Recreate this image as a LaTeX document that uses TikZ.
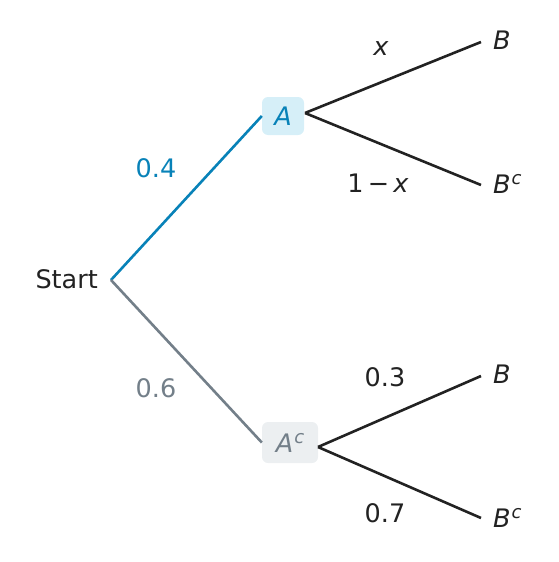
\documentclass[tikz,border=0pt]{standalone}
\usepackage{fontspec}
\setmainfont{DejaVu Sans}
\definecolor{ink}{HTML}{222222}
\definecolor{ablue}{HTML}{0882B8}
\definecolor{agray}{HTML}{737F89}
\definecolor{bluefill}{HTML}{D6EFF8}
\definecolor{grayfill}{HTML}{ECEFF1}
\newcommand\mysupc{\kern1pt\raisebox{9pt}{\fontsize{18}{18}\selectfont\itshape c}}
\begin{document}
\begin{tikzpicture}[x=1pt,y=-1pt,
  every node/.style={font=\fontsize{25.5}{30}\selectfont, text=ink},
  box/.style={rounded corners=6pt, inner sep=0pt},
  edge/.style={line width=2.6pt, line cap=butt},
  lab/.style={inner sep=0pt}]
\useasboundingbox (0,0) rectangle (558,562);
% root
\node[anchor=east, lab] (start) at (98,279) {Start};
\coordinate (s) at (111,280);
% first level
\node[box, fill=bluefill, text=ablue, minimum width=42pt, minimum height=38pt] (A) at (283,116) {\itshape A};
\node[box, fill=grayfill, text=agray, minimum width=56pt, minimum height=41pt] (Ac) at (290,442.5) {\itshape A\mysupc};
\coordinate (a1) at (305,113);
\coordinate (a2) at (318,447);
% leaves
\coordinate (b1) at (481,42);
\coordinate (b2) at (481,185);
\coordinate (b3) at (481,376);
\coordinate (b4) at (481,518);
\node[anchor=base west, lab] (B1) at (493,49) {\itshape B};
\node[anchor=base west, lab] (B2) at (493,193) {\itshape B\mysupc};
\node[anchor=base west, lab] (B3) at (493,383) {\itshape B};
\node[anchor=base west, lab] (B4) at (493,527) {\itshape B\mysupc};
% connectors
\draw[edge, ablue] (s) -- (A.west);
\draw[edge, agray] (s) -- (Ac.west);
\draw[edge, ink] (a1) -- (b1);
\draw[edge, ink] (a1) -- (b2);
\draw[edge, ink] (a2) -- (b3);
\draw[edge, ink] (a2) -- (b4);
% labels
\node[lab, text=ablue] (p1) at (156,168) {0.4};
\node[lab, text=agray] (p2) at (156,388) {0.6};
\node[lab] (p3) at (381,49) {\itshape x};
\node[lab] (p4) at (378,183) {1\,−\,\textit{x}};
\node[lab] (p5) at (385,377) {0.3};
\node[lab] (p6) at (385,513) {0.7};
\end{tikzpicture}
\end{document}
